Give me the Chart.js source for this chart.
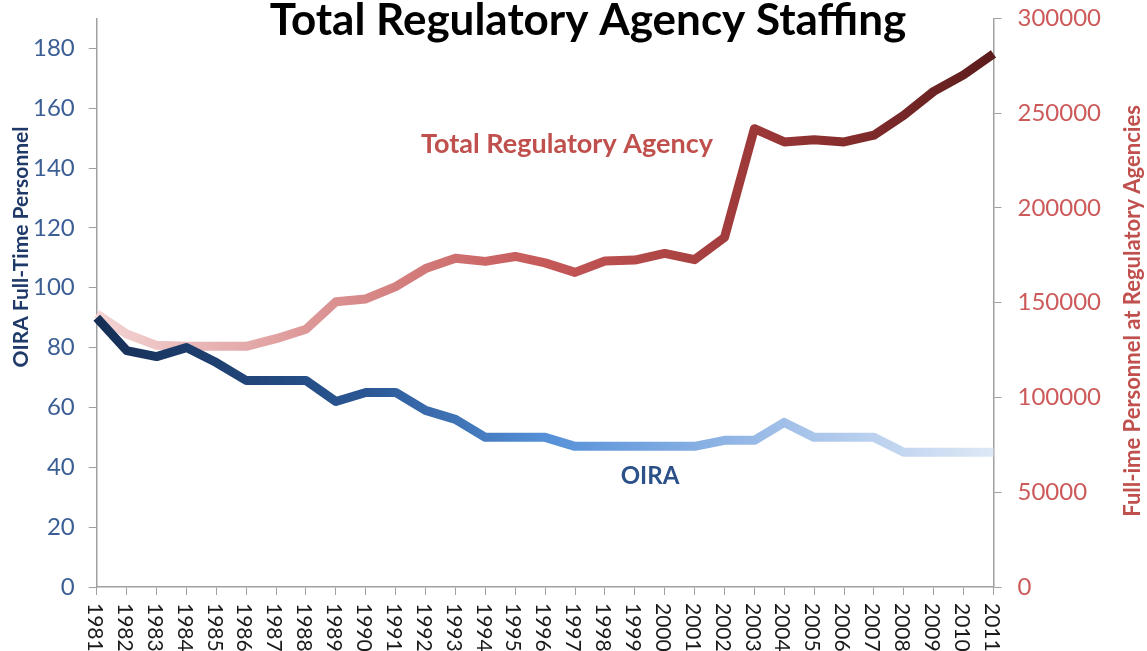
<!DOCTYPE html>
<html>
<head>
<meta charset="utf-8">
<script src="https://cdn.jsdelivr.net/npm/chart.js@4"></script>
<style>
  body { margin: 0; background: #fff; }
  #wrap { width: 1147px; height: 651px; }
</style>
</head>
<body>
<div id="wrap"><canvas id="myChart" width="1147" height="651"></canvas></div>
<script>
const years = ['1981', '1982', '1983', '1984', '1985', '1986', '1987', '1988', '1989', '1990',
    '1991', '1992', '1993', '1994', '1995', '1996', '1997', '1998', '1999', '2000',
    '2001', '2002', '2003', '2004', '2005', '2006', '2007', '2008', '2009', '2010', '2011'];
const oira = [90, 79, 77, 80, 75, 69, 69, 69, 62, 65, 65, 59, 56, 50, 50, 50, 47, 47, 47, 47,
    47, 49, 49, 55, 50, 50, 50, 45, 45, 45, 45];
const totalAgency = [144000, 133500, 127500, 127000, 127000, 127000, 131000, 136000, 150500, 152000,
    158500, 168000, 173500, 171800, 174400, 171000, 166000, 172000, 172500, 176000,
    172700, 184400, 241800, 234800, 236000, 234800, 238400, 248900, 261500, 270200, 281300];
const leftTicks = [0, 20, 40, 60, 80, 100, 120, 140, 160, 180];

const FONT = 'Lato, "Open Sans", sans-serif';

function gradient(chart, stops) {
    const area = chart.chartArea;
    if (!area) return null;
    const g = chart.ctx.createLinearGradient(area.left, 0, area.right, 0);
    stops.forEach(s => g.addColorStop(s[0], s[1]));
    return g;
}

const extras = {
    id: 'extras',
    afterDraw(chart) {
        const ctx = chart.ctx;
        const xs = chart.scales.x;
        ctx.save();
        // x labels, rotated clockwise
        ctx.font = '21px ' + FONT;
        ctx.fillStyle = '#1a1a1a';
        ctx.textAlign = 'left';
        ctx.textBaseline = 'middle';
        years.forEach((y, i) => {
            const x = xs.getPixelForTick(i);
            ctx.save();
            ctx.translate(x - 2, xs.top + 16);
            ctx.rotate(Math.PI / 2);
            ctx.fillText(y, 0, 0);
            ctx.restore();
        });
        // title
        ctx.textAlign = 'center';
        ctx.textBaseline = 'alphabetic';
        ctx.font = 'bold 44px ' + FONT;
        ctx.fillStyle = '#000';
        ctx.fillText('Total Regulatory Agency Staffing', 588, 35);
        // series labels
        ctx.font = 'bold 27px ' + FONT;
        ctx.fillStyle = '#c0504d';
        ctx.fillText('Total Regulatory Agency', 567, 153);
        ctx.font = 'bold 24px ' + FONT;
        ctx.fillStyle = '#2c5088';
        ctx.fillText('OIRA', 650, 484);
        // axis titles
        ctx.font = 'bold 21px ' + FONT;
        ctx.save();
        ctx.translate(21, 247);
        ctx.rotate(-Math.PI / 2);
        ctx.textBaseline = 'middle';
        ctx.fillStyle = '#1f3a68';
        ctx.fillText('OIRA Full-Time Personnel', 0, 0);
        ctx.restore();
        ctx.font = 'bold 22px ' + FONT;
        ctx.save();
        ctx.translate(1133, 311);
        ctx.rotate(-Math.PI / 2);
        ctx.textBaseline = 'middle';
        ctx.fillStyle = '#c0504d';
        ctx.fillText('Full-ime Personnel at Regulatory Agencies', 0, 0);
        ctx.restore();
        ctx.restore();
    }
};

const ctx = document.getElementById('myChart').getContext('2d');

const myChart = new Chart(ctx, {
    type: 'line',
    data: {
        labels: years,
        datasets: [{
            label: 'OIRA',
            data: oira,
            yAxisID: 'y',
            borderWidth: 9,
            pointRadius: 0,
            fill: false,
            borderJoinStyle: 'round',
            borderColor: c => gradient(c.chart, [[0, '#152e55'], [0.3, '#2a5794'], [0.5, '#5590d8'], [0.75, '#9dbde8'], [1, '#dee8f6']])
        }, {
            label: 'Total Regulatory Agency',
            data: totalAgency,
            yAxisID: 'y1',
            borderWidth: 9,
            pointRadius: 0,
            fill: false,
            borderJoinStyle: 'round',
            borderColor: c => gradient(c.chart, [[0, '#f4d4d4'], [0.25, '#dc9494'], [0.5, '#c65858'], [0.75, '#9a3636'], [1, '#5c1c1c']])
        }]
    },
    options: {
        responsive: false,
        maintainAspectRatio: false,
        animation: false,
        layout: {padding: {left: 19, right: 30, top: -5, bottom: 56}},
        plugins: {
            legend: {display: false},
            tooltip: {enabled: false}
        },
        scales: {
            x: {
                offset: false,
                grid: {display: true, drawOnChartArea: false, color: '#a0a0a0', tickLength: 8},
                border: {color: '#a0a0a0', width: 1.5},
                ticks: {display: false, autoSkip: false}
            },
            y: {
                position: 'left',
                min: 0,
                max: 190,
                afterBuildTicks: axis => {
                    axis.ticks = leftTicks.map(v => ({value: v}));
                },
                grid: {display: true, drawOnChartArea: false, color: '#a0a0a0', tickLength: 8},
                border: {color: '#a0a0a0', width: 1.5},
                ticks: {
                    color: '#3b5e95',
                    font: {family: FONT, size: 24, lineHeight: 0.2},
                    padding: 14
                }
            },
            y1: {
                position: 'right',
                min: 0,
                max: 300000,
                grid: {display: true, drawOnChartArea: false, color: '#a0a0a0', tickLength: 8},
                border: {color: '#a0a0a0', width: 1.5},
                ticks: {
                    stepSize: 50000,
                    color: '#cd5a5a',
                    font: {family: FONT, size: 24, lineHeight: 0.2},
                    padding: 16,
                    callback: v => String(v)
                }
            }
        }
    },
    plugins: [extras]
});
</script>
</body>
</html>
